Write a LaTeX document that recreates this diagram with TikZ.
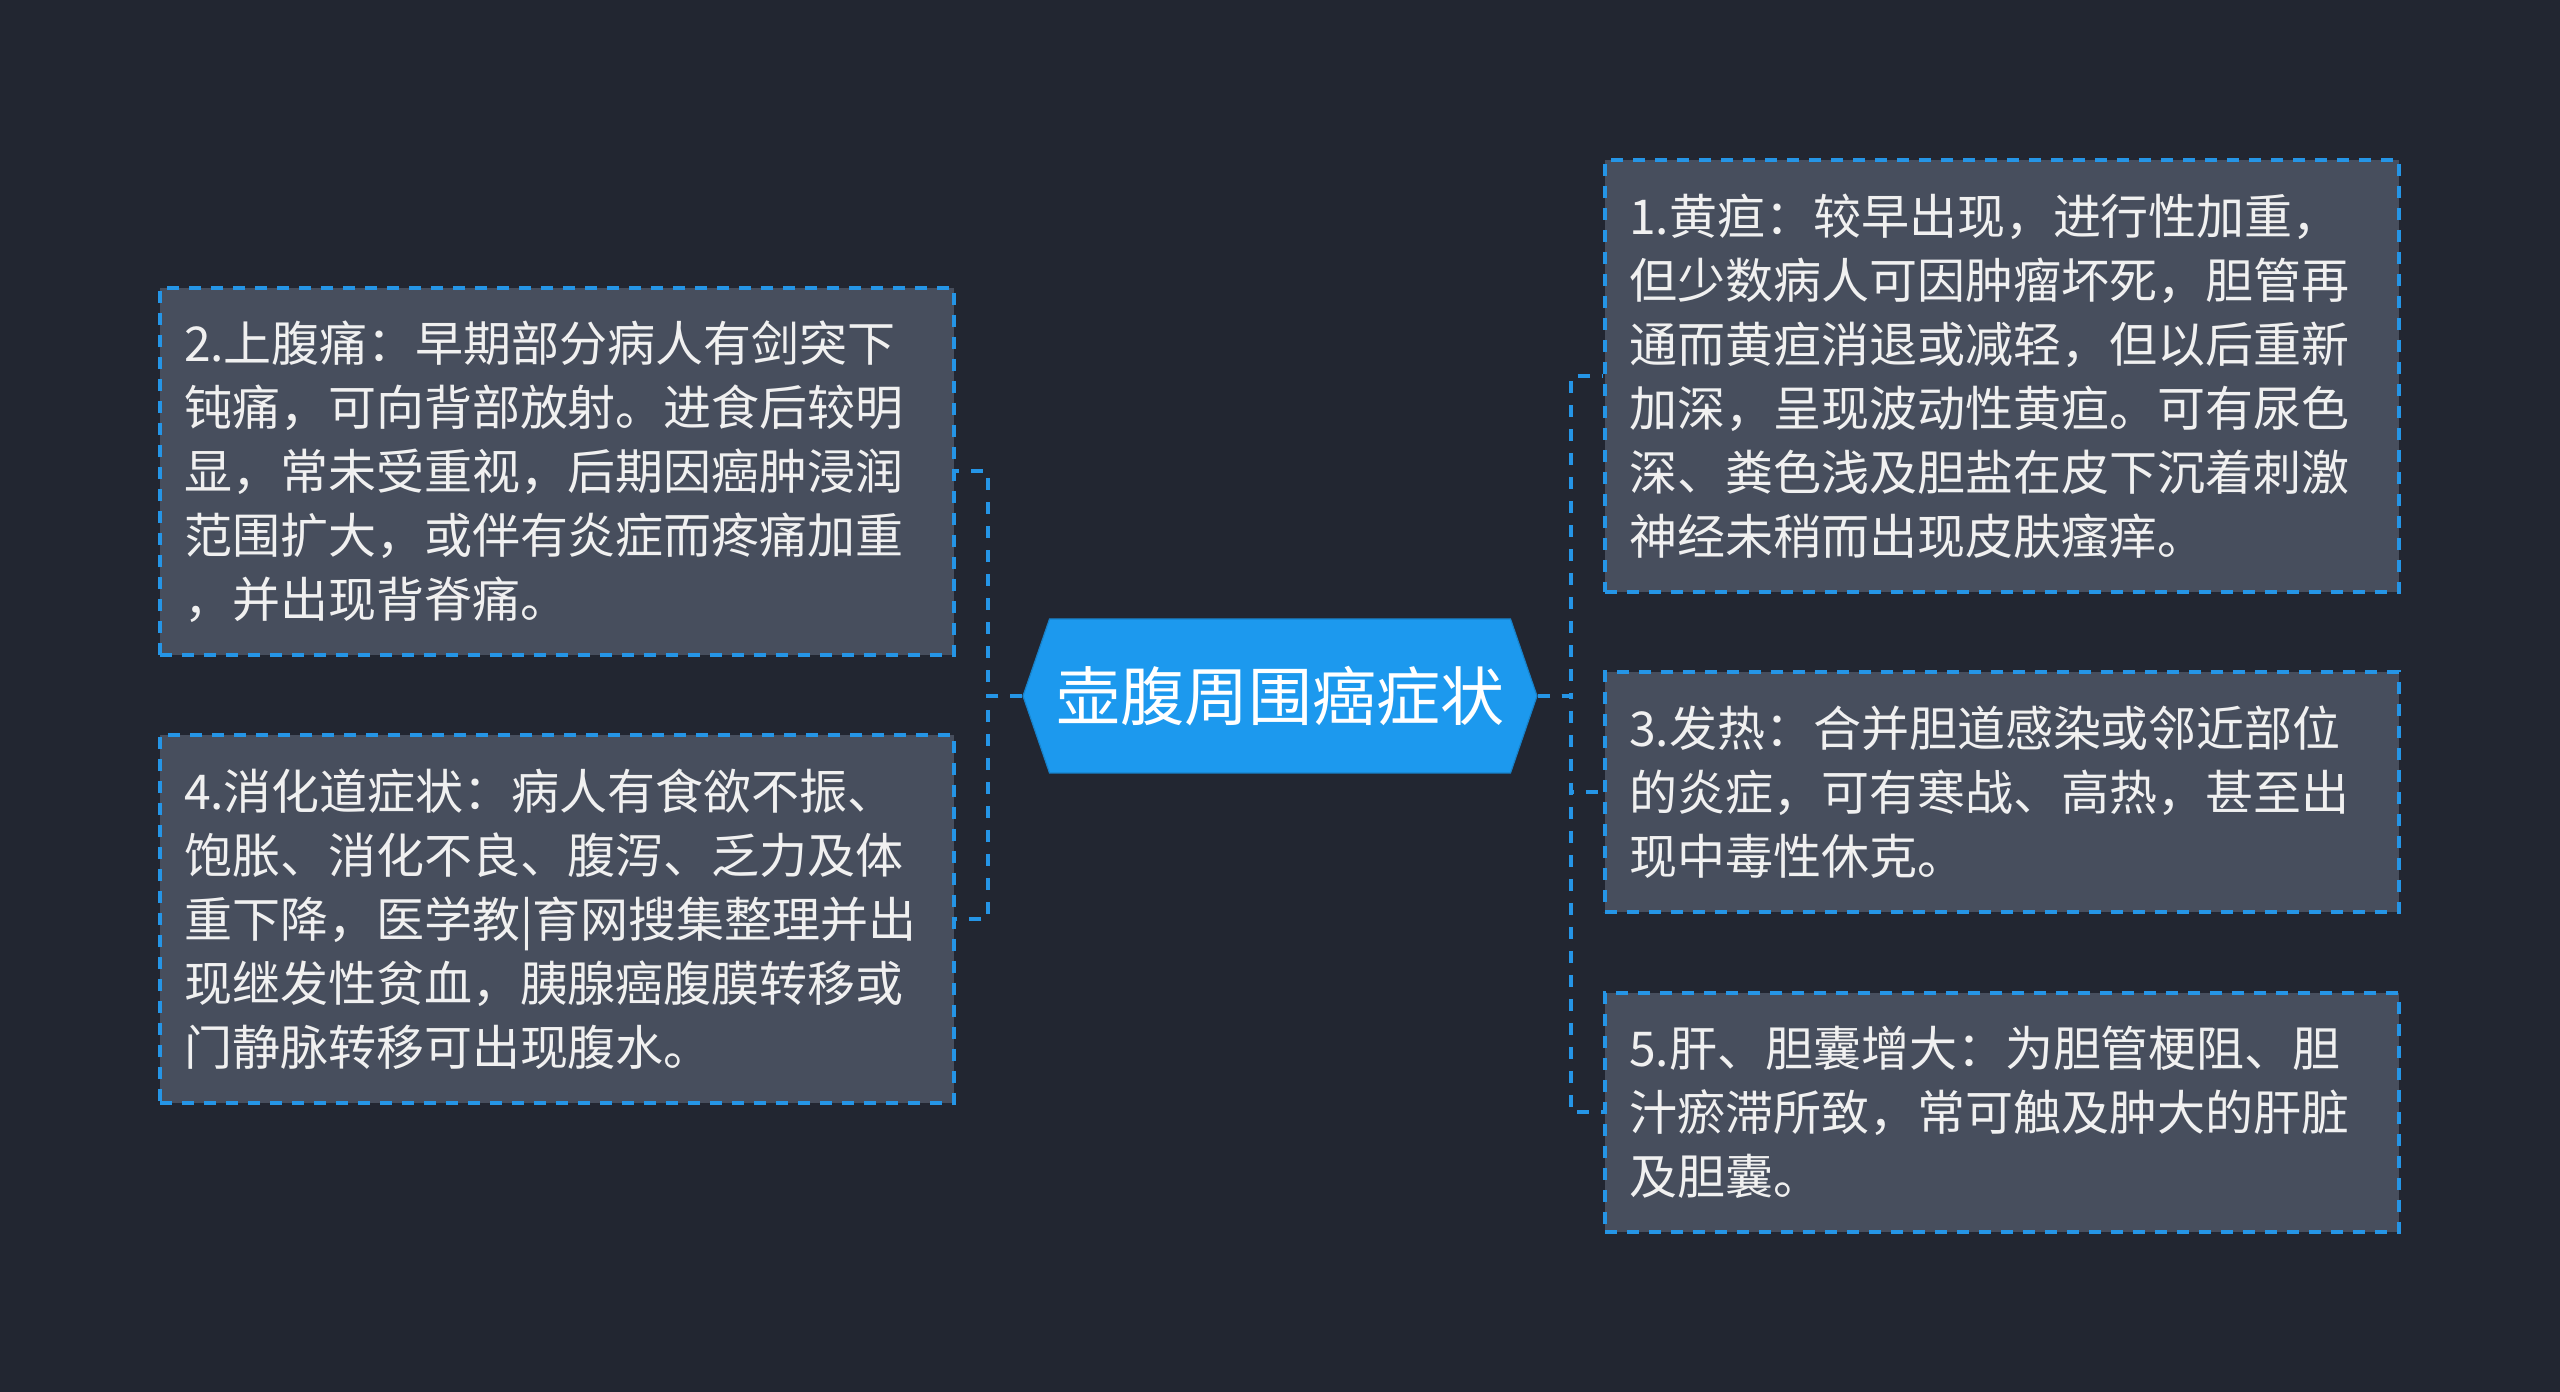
\documentclass[tikz,border=0pt]{standalone}
\usepackage{fontspec}
\setmainfont{Noto Sans CJK SC}
\usepackage{tikz}
\usetikzlibrary{shapes}

\definecolor{bgdark}{HTML}{222631}
\definecolor{boxgray}{HTML}{474E5D}
\definecolor{linkblue}{HTML}{2595E6}
\definecolor{rootblue}{HTML}{1C99EE}

\begin{document}
\begin{tikzpicture}
		\tikzset{vertex/.style = {shape=rectangle,draw=linkblue,line width=1.6pt,dash pattern=on 6pt off 5pt,fill=boxgray,text=white!94!black,align=left,text width=373pt,inner xsep=12pt,inner ysep=0pt,font=\fontsize{24pt}{32pt}\selectfont}}
		\tikzset{root/.style = {shape=signal,signal to=west and east,signal pointer angle=142,fill=rootblue,draw=rootblue!85!black,line width=0.6pt,text=white,minimum width=257pt,minimum height=77pt,inner sep=0pt,font=\fontsize{32pt}{40pt}\selectfont}}
		\tikzset{edge/.style = {draw=linkblue,line width=2pt,dash pattern=on 6pt off 6pt}}
		
		\useasboundingbox (0,0) rectangle (1280pt,696pt);
		\fill[bgdark] (0,0) rectangle (1280pt,696pt);
		
		\node[root] (r) at (640pt,348pt) {壶腹周围癌症状};
		
		\node[vertex,minimum height=216pt] (n1) at (1001pt,508pt) {1.黄疸：较早出现，进行性加重，\\但少数病人可因肿瘤坏死，胆管再\\通而黄疸消退或减轻，但以后重新\\加深，呈现波动性黄疸。可有尿色\\深、粪色浅及胆盐在皮下沉着刺激\\神经未稍而出现皮肤瘙痒。};
		\node[vertex,minimum height=183.5pt] (n2) at (278.5pt,460.25pt) {2.上腹痛：早期部分病人有剑突下\\钝痛，可向背部放射。进食后较明\\显，常未受重视，后期因癌肿浸润\\范围扩大，或伴有炎症而疼痛加重\\，并出现背脊痛。};
		\node[vertex,minimum height=120pt] (n3) at (1001pt,300pt) {3.发热：合并胆道感染或邻近部位\\的炎症，可有寒战、高热，甚至出\\现中毒性休克。};
		\node[vertex,minimum height=184pt] (n4) at (278.5pt,236.5pt) {4.消化道症状：病人有食欲不振、\\饱胀、消化不良、腹泻、乏力及体\\重下降，医学教|育网搜集整理并出\\现继发性贫血，胰腺癌腹膜转移或\\门静脉转移可出现腹水。};
		\node[vertex,minimum height=119.5pt] (n5) at (1001pt,139.75pt) {5.肝、胆囊增大：为胆管梗阻、胆\\汁瘀滞所致，常可触及肿大的肝脏\\及胆囊。};
		
		\draw[edge] (r.west) -- ++(-17pt,0) |- (n2.east);
		\draw[edge] (r.west) -- ++(-17pt,0) |- (n4.east);
		\draw[edge] (r.east) -- ++(16.5pt,0) |- (n1.west);
		\draw[edge] (r.east) -- ++(16.5pt,0) |- (n3.west);
		\draw[edge] (r.east) -- ++(16.5pt,0) |- (n5.west);
		\end{tikzpicture}
\end{document}
